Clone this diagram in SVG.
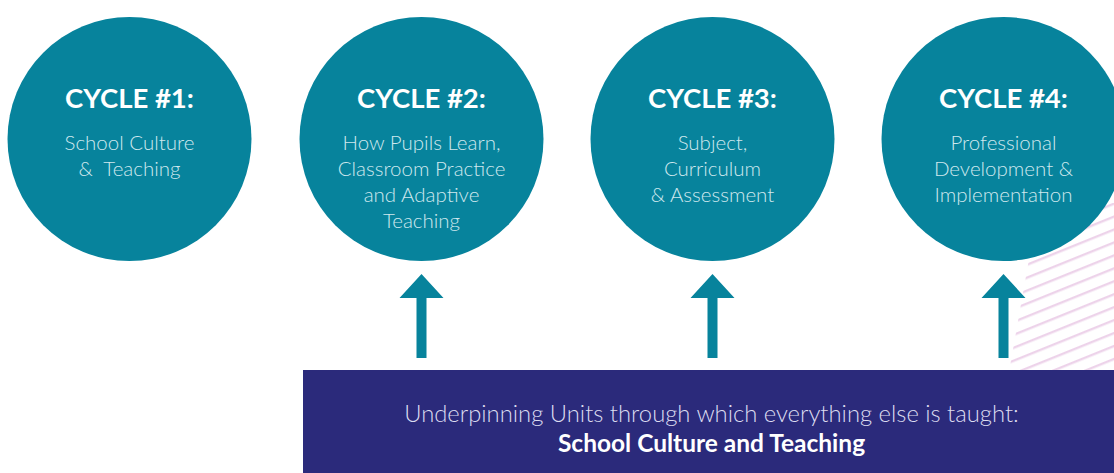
<svg xmlns="http://www.w3.org/2000/svg" width="1114" height="473" viewBox="0 0 1114 473">
  <style>
    .circle { fill: #07839c; }
    .title { font-family: Lato, "Open Sans", sans-serif; font-weight: 700; font-size: 27.5px; fill: #ffffff; text-anchor: middle; }
    .body { font-family: Lato, "Open Sans", sans-serif; font-weight: 300; font-size: 20.5px; fill: #cfe8ee; text-anchor: middle; }
    .arrow { fill: #07839c; }
    .box { fill: #2b2a7b; }
    .boxtext { font-family: Lato, "Open Sans", sans-serif; font-weight: 300; font-size: 23.8px; fill: #dcdcf0; text-anchor: middle; }
    .boxbold { font-family: Lato, "Open Sans", sans-serif; font-weight: 700; font-size: 24.5px; fill: #ffffff; text-anchor: middle; }
  </style>
  <defs>
    <pattern id="hatch" patternUnits="userSpaceOnUse" width="40" height="12" patternTransform="rotate(-22)">
      <rect x="0" y="5" width="40" height="2.4" fill="#edd3ea"/>
    </pattern>
    <clipPath id="hatchClip">
      <polygon points="1039,203 1114,203 1114,372 1009,372"/>
    </clipPath>
  </defs>
  <rect width="1114" height="473" fill="#ffffff"/>
  <g id="hatching">
    <rect x="1000" y="190" width="114" height="185" fill="url(#hatch)" clip-path="url(#hatchClip)"/>
  </g>
  <g id="cycle1">
    <circle class="circle" cx="129.5" cy="139" r="122"/>
    <text class="title" x="129.5" y="108">CYCLE #1:</text>
    <text class="body" x="129.5" y="150">School Culture</text>
    <text class="body" x="129.5" y="176" xml:space="preserve">&amp;  Teaching</text>
  </g>
  <g id="cycle2">
    <circle class="circle" cx="421.5" cy="139" r="122"/>
    <text class="title" x="421.5" y="108">CYCLE #2:</text>
    <text class="body" x="421.5" y="150">How Pupils Learn,</text>
    <text class="body" x="421.5" y="176">Classroom Practice</text>
    <text class="body" x="421.5" y="202">and Adaptive</text>
    <text class="body" x="421.5" y="228">Teaching</text>
  </g>
  <g id="cycle3">
    <circle class="circle" cx="712.5" cy="139" r="122"/>
    <text class="title" x="712.5" y="108">CYCLE #3:</text>
    <text class="body" x="712.5" y="150">Subject,</text>
    <text class="body" x="712.5" y="176">Curriculum</text>
    <text class="body" x="712.5" y="202">&amp; Assessment</text>
  </g>
  <g id="cycle4">
    <circle class="circle" cx="1003.5" cy="139" r="122"/>
    <text class="title" x="1003.5" y="108">CYCLE #4:</text>
    <text class="body" x="1003.5" y="150">Professional</text>
    <text class="body" x="1003.5" y="176">Development &amp;</text>
    <text class="body" x="1003.5" y="202">Implementation</text>
  </g>
  <g id="connectors">
    <polygon class="arrow" points="421.5,274 399.5,298 416.5,298 416.5,358 426.5,358 426.5,298 443.5,298"/>
    <polygon class="arrow" points="712.5,274 690.5,298 707.5,298 707.5,358 717.5,358 717.5,298 734.5,298"/>
    <polygon class="arrow" points="1003.5,274 981.5,298 998.5,298 998.5,358 1008.5,358 1008.5,298 1025.5,298"/>
  </g>
  <g id="underpinning">
    <rect class="box" x="303" y="370" width="811" height="103"/>
    <text class="boxtext" x="711.5" y="422">Underpinning Units through which everything else is taught:</text>
    <text class="boxbold" x="711.5" y="452">School Culture and Teaching</text>
  </g>
</svg>
